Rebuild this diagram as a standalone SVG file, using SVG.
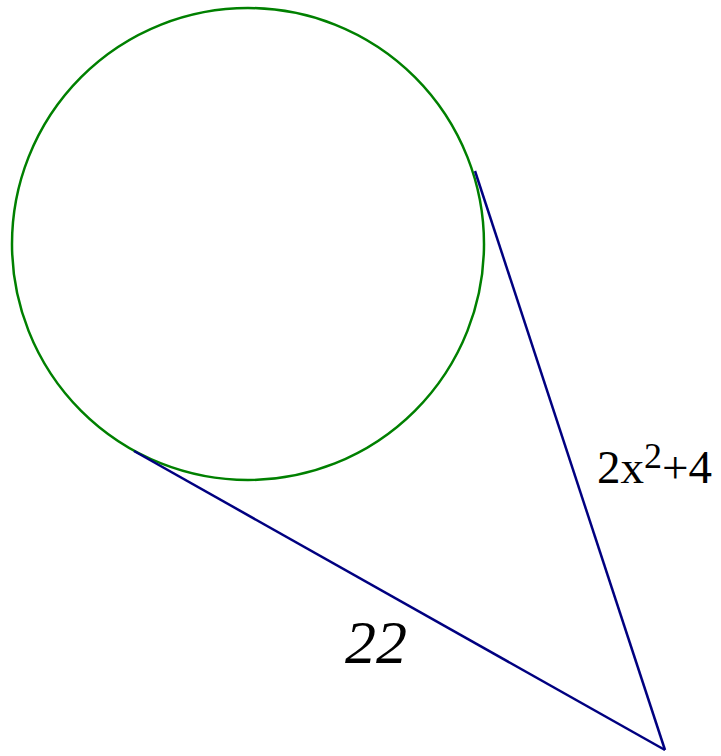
<svg xmlns="http://www.w3.org/2000/svg" width="721" height="756" viewBox="0 0 721 756">
<style>
.seg{stroke:#000080;stroke-width:2.5;fill:none}
.lbl{font-family:"Liberation Serif","Times New Roman",serif;fill:#000}
</style>
<rect width="721" height="756" fill="#fff"/>
<g id="circle">
<circle cx="248" cy="244" r="236" fill="none" stroke="#008000" stroke-width="2.5"/>
</g>
<g id="connectors">
<line class="seg" x1="475" y1="171" x2="665" y2="750"/>
<line class="seg" x1="134" y1="451" x2="665" y2="750"/>
</g>
<g id="label-right">
<text class="lbl" x="597" y="483" font-size="47">2x<tspan font-size="36" dy="-15">2</tspan><tspan dy="15">+4</tspan></text>
</g>
<g id="label-bottom">
<text class="lbl" x="345" y="663" font-size="62" font-style="italic">22</text>
</g>
</svg>
